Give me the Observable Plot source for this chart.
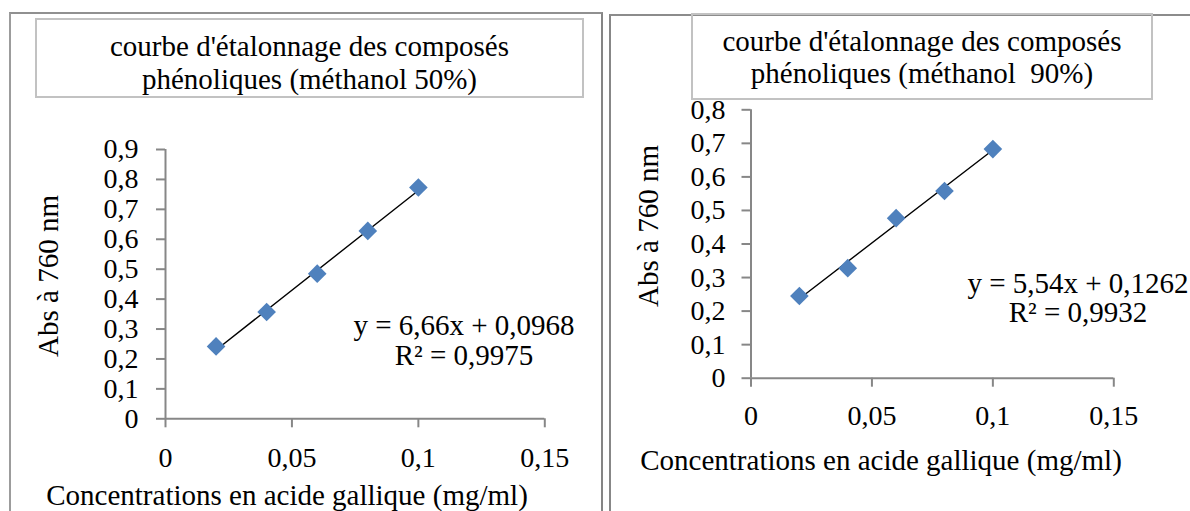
<!DOCTYPE html>
<html>
<head>
<meta charset="utf-8">
<script src="https://cdn.jsdelivr.net/npm/d3@7"></script>
<script src="https://cdn.jsdelivr.net/npm/@observablehq/plot@0.6"></script>
<style>
  body { margin: 0; background: #fff; }
  #page { position: relative; width: 1190px; height: 511px; overflow: hidden; background: #fff;
          font-family: "Liberation Serif", "Times New Roman", serif; color: #000; }
  .panel { position: absolute; box-sizing: border-box; }
  .titlebox { position: absolute; box-sizing: border-box; border: 2px solid #c2c2c2; }
  .title { position: absolute; text-align: center; font-size: 29px; white-space: pre; }
  .xlabel { position: absolute; font-size: 29px; line-height: 1; white-space: pre; transform: translate(-50%, -50%); }
  .ylabel { position: absolute; font-size: 29px; line-height: 1; white-space: pre; transform: translate(-50%, -50%) rotate(-90deg); }
  .plotwrap { position: absolute; }
</style>
</head>
<body>
<div id="page">
  <div class="panel" style="left:9px;top:12px;width:594px;height:620px;border-left:2px solid #9c9c9c;border-top:2px solid #909090;border-right:2px solid #858585;"></div>
  <div class="panel" style="left:609px;top:14px;width:700px;height:620px;border-left:2px solid #878787;border-top:2px solid #8c8c8c;"></div>

  <div class="titlebox" style="left:35px;top:18px;width:549px;height:80px;"></div>
  <div class="titlebox" style="left:691px;top:13px;width:462px;height:87px;"></div>

  <div id="title50" class="title" style="left:35px;top:30px;width:549px;line-height:33px;"></div>
  <div id="title90" class="title" style="left:691px;top:26px;width:462px;line-height:31.6px;"></div>

  <div id="plot50" class="plotwrap" style="left:10px;top:13px;"></div>
  <div id="plot90" class="plotwrap" style="left:610px;top:15px;"></div>

  <div id="xlab50" class="xlabel" style="left:287px;top:495px;"></div>
  <div id="xlab90" class="xlabel" style="left:881px;top:460px;"></div>
  <div id="ylab50" class="ylabel" style="left:48px;top:276px;"></div>
  <div id="ylab90" class="ylabel" style="left:648px;top:226px;"></div>
</div>
<script>
// Gallic acid concentrations (mg/ml) shared by both calibration curves
const concentrations = [0.02, 0.04, 0.06, 0.08, 0.1];

// Absorbance at 760 nm, methanol 50% extract
const abs50 = [0.242, 0.357, 0.485, 0.628, 0.773];
// Absorbance at 760 nm, methanol 90% extract
const abs90 = [0.245, 0.328, 0.477, 0.558, 0.683];

// Linear fits reported on each curve
const fit50 = [6.66, 0.0968, 0.9975];   // slope, intercept, R²
const fit90 = [5.54, 0.1262, 0.9932];

// Axis ticks
const xTicks = [0, 0.05, 0.1, 0.15];
const yTicks50 = [0, 0.1, 0.2, 0.3, 0.4, 0.5, 0.6, 0.7, 0.8, 0.9];
const yTicks90 = [0, 0.1, 0.2, 0.3, 0.4, 0.5, 0.6, 0.7, 0.8];

// Text
const titles = [
  "courbe d'étalonnage des composés\nphénoliques (méthanol 50%)",
  "courbe d'étalonnage des composés\nphénoliques (méthanol  90%)"
];
const xTitle = "Concentrations en acide gallique (mg/ml)";
const yTitle = "Abs à 760 nm";

const comma = v => String(v).replace(".", ",");
const FONT = '"Liberation Serif", "Times New Roman", serif';
const AXIS = "#878787";
const BLUE = "#4F81BD";

function curve({abs, fit, yTicks, size, margins, tickPadX, tickPadY, eqOffset, eqLine}) {
  const [slope, intercept, r2] = fit;
  const points = concentrations.map((x, i) => ({x, y: abs[i]}));
  const [x0, x1] = d3.extent(concentrations);
  const trend = [x0, x1].map(x => ({x, y: slope * x + intercept}));
  const label = `y = ${comma(slope)}x + ${comma(intercept)}\nR² = ${comma(r2)}`;
  const [xmin, xmax] = d3.extent(xTicks);
  const [ymin, ymax] = d3.extent(yTicks);
  return Plot.plot({
    width: size[0],
    height: size[1],
    ...margins,
    x: {domain: [xmin, xmax]},
    y: {domain: [ymin, ymax]},
    style: {fontFamily: FONT, fontSize: "28px", background: "transparent", overflow: "visible", color: "#000"},
    marks: [
      Plot.ruleY([ymin], {x1: xmin, x2: xmax, stroke: AXIS, strokeWidth: 2}),
      Plot.ruleX([xmin], {y1: ymin, y2: ymax, stroke: AXIS, strokeWidth: 2}),
      Plot.axisX({ticks: xTicks, tickFormat: comma, tickSize: 9, tickPadding: tickPadX,
                  stroke: AXIS, strokeWidth: 2, fill: "#000", fontSize: 28, label: null}),
      Plot.axisY({ticks: yTicks, tickFormat: comma, tickSize: 9, tickPadding: tickPadY,
                  stroke: AXIS, strokeWidth: 2, fill: "#000", fontSize: 28, label: null}),
      Plot.line(trend, {x: "x", y: "y", stroke: "#000", strokeWidth: 1.4}),
      Plot.dot(points, {x: "x", y: "y", symbol: "diamond2", r: 8.4, fill: BLUE, stroke: "none"}),
      Plot.text([label], {frameAnchor: "top-left", dx: eqOffset[0], dy: eqOffset[1],
                          textAnchor: "middle", lineAnchor: "middle", lineHeight: eqLine,
                          fontSize: 29, fill: "#000"})
    ]
  });
}

document.getElementById("plot50").append(curve({
  abs: abs50, fit: fit50, yTicks: yTicks50,
  size: [592, 498],
  margins: {marginLeft: 155, marginRight: 57.7, marginTop: 136, marginBottom: 92.7},
  tickPadX: 19, tickPadY: 18,
  eqOffset: [298.5, 191], eqLine: 1.04
}));

document.getElementById("plot90").append(curve({
  abs: abs90, fit: fit90, yTicks: yTicks90,
  size: [580, 496],
  margins: {marginLeft: 140.5, marginRight: 76.7, marginTop: 94.3, marginBottom: 133.3},
  tickPadX: 17.5, tickPadY: 16.5,
  eqOffset: [327, 188], eqLine: 1.01
}));

document.getElementById("title50").textContent = titles[0];
document.getElementById("title90").textContent = titles[1];
document.getElementById("xlab50").textContent = xTitle;
document.getElementById("xlab90").textContent = xTitle;
document.getElementById("ylab50").textContent = yTitle;
document.getElementById("ylab90").textContent = yTitle;
</script>
</body>
</html>
